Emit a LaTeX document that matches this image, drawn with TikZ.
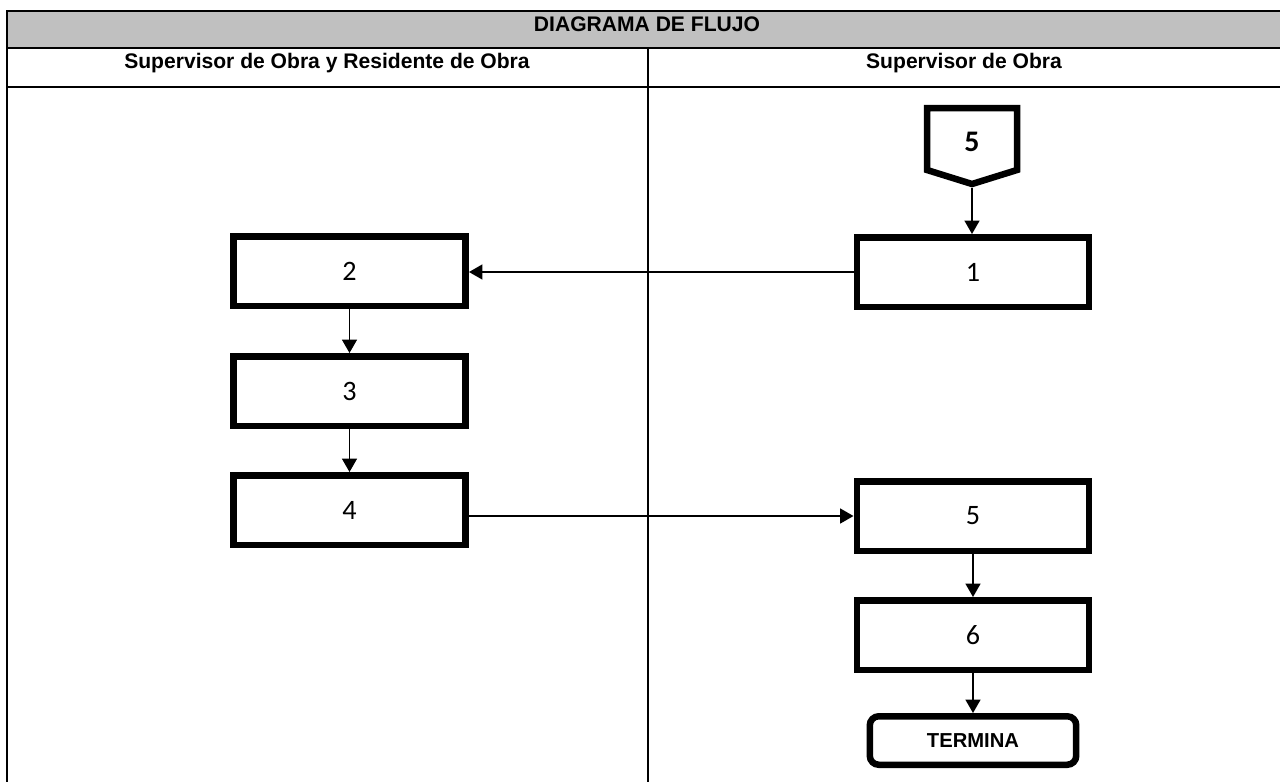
\documentclass[tikz,border=0pt]{standalone}
\usepackage{fontspec}
\setmainfont{Liberation Sans}
\newfontfamily\calibri{Carlito}
\usetikzlibrary{arrows.meta}
\definecolor{encabezado}{RGB}{192,192,192}

\begin{document}
\begin{tikzpicture}[x=0.02cm,y=-0.02cm,
    paso/.style={draw,line width=3.7pt,minimum width=4.65cm,minimum height=1.39cm,inner sep=0pt,
        font=\calibri\fontsize{16}{18}\selectfont},
    fin/.style={draw,line width=3.7pt,rounded corners=0.18cm,minimum width=4.13cm,minimum height=0.97cm,
        font=\bfseries\fontsize{11.5}{13}\selectfont},
    flecha/.style={line width=1pt,-{Triangle[length=0.27cm,width=0.3cm]}},
    tabla/.style={line width=1.1pt},
    titulo/.style={font=\bfseries\fontsize{12}{14}\selectfont,anchor=base}]
    \useasboundingbox (0,0) rectangle (1280,782);
    \fill[encabezado] (7,11) rectangle (1280,48);
    \draw[tabla] (1280,11) -- (7,11) -- (7,782);
    \draw[tabla] (7,48) -- (1280,48);
    \draw[tabla] (7,87) -- (1280,87);
    \draw[tabla] (648,48) -- (648,782);
    \node[titulo] (t0) at (647,31) {DIAGRAMA DE FLUJO};
    \node[titulo] (t1) at (327,68) {Supervisor de Obra y Residente de Obra};
    \node[titulo] (t2) at (964,68) {Supervisor de Obra};
    \draw[line width=3.7pt] (927,108) -- (1017,108) -- (1017,170) -- (972,184) -- (927,170) -- cycle;
    \node[font=\calibri\bfseries\fontsize{17}{19}\selectfont] (c5) at (972,142) {5};
    \coordinate (c5fin) at (972,188);
    \node[paso] (p1) at (973,272) {1};
    \node[paso] (p2) at (349.5,271) {2};
    \node[paso] (p3) at (349.5,391) {3};
    \node[paso] (p4) at (349.5,510) {4};
    \node[paso] (p5) at (973,516) {5};
    \node[paso] (p6) at (973,635) {6};
    \node[fin] (fin) at (973,740.5) {TERMINA};
    \draw[flecha] (c5fin) -- (c5fin |- p1.north);
    \draw[flecha] (p1.west) -- (p1.west -| p2.east);
    \draw[flecha] (p2.south) -- (p3.north);
    \draw[flecha] (p3.south) -- (p4.north);
    \draw[flecha] (p4.east |- p5.west) -- (p5.west);
    \draw[flecha] (p5.south) -- (p6.north);
    \draw[flecha] (p6.south) -- (fin.north);
\end{tikzpicture}
\end{document}
